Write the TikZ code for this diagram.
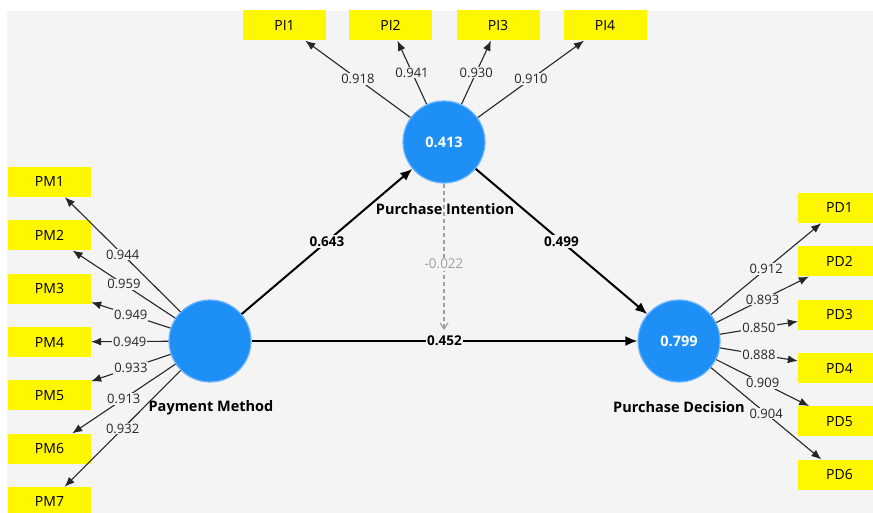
\documentclass[tikz,border=0pt]{standalone}
\usepackage{fontspec}
\setmainfont{Open Sans}
\usetikzlibrary{arrows.meta}
\definecolor{bg}{HTML}{F4F4F4}
\definecolor{lvblue}{HTML}{1E8FF5}
\definecolor{lvedge}{HTML}{6DB6FF}
\definecolor{ind}{HTML}{FFF700}
\definecolor{dgray}{HTML}{A0A0A0}
\tikzset{
  latent/.style={circle, fill=lvblue, draw=lvedge, line width=1.2pt, minimum size=82pt, inner sep=0pt,
    text=white, font=\fontsize{14.5}{14.5}\selectfont\bfseries},
  indic/.style={rectangle, fill=ind, minimum width=83pt, minimum height=30pt, inner sep=0pt,
    font=\fontsize{14}{14}\selectfont},
  lvname/.style={font=\fontsize{14.5}{14.5}\selectfont\bfseries, inner sep=0pt},
  load/.style={-{Latex[length=10pt,width=8pt]}, line width=1.1pt, black!85},
  loadlbl/.style={fill=bg, inner sep=1pt, font=\fontsize{13}{13}\selectfont, text=black!85},
  path/.style={-{Latex[length=12pt,width=10pt]}, line width=2pt},
  pathlbl/.style={fill=bg, inner sep=1.5pt, font=\fontsize{13.5}{13.5}\selectfont\bfseries},
  dpath/.style={-{Straight Barb[length=6pt,width=8pt]}, line width=1.2pt, dgray, dash pattern=on 4pt off 3pt},
}
\begin{document}
\begin{tikzpicture}[x=1pt,y=-1pt]
\useasboundingbox (0,0) rectangle (873,513);
\clip (0,0) rectangle (873,513);
\fill[white] (0,0) rectangle (873,513);
\fill[bg] (7,11) rectangle (873,513);
% latent variables
\node[latent] (PI) at (444,142) {0.413};
\node[latent] (PM) at (210,341) {};
\node[latent] (PD) at (679,341) {0.799};
% indicators
\foreach \n/\x in {1/284.5,2/390.5,3/498,4/605}{
  \node[indic] (PI\n) at (\x,25.5) {PI\n};
}
\foreach \n/\y in {1/182,2/235.3,3/288.6,4/342,5/395.3,6/448.6,7/502}{
  \node[indic] (PM\n) at (49.5,\y) {PM\n};
}
\foreach \n/\y in {1/208,2/261.3,3/314.6,4/368,5/421.3,6/474.6}{
  \node[indic] (PD\n) at (839.5,\y) {PD\n};
}
% loadings
\foreach \n/\v in {1/0.918,2/0.941,3/0.930,4/0.910}{
  \draw[load] (PI) -- node[loadlbl]{\v} (PI\n);
}
\foreach \n/\v in {1/0.944,2/0.959,3/0.949,4/0.949,5/0.933,6/0.913,7/0.932}{
  \draw[load] (PM) -- node[loadlbl]{\v} (PM\n);
}
\foreach \n/\v in {1/0.912,2/0.893,3/0.850,4/0.888,5/0.909,6/0.904}{
  \draw[load] (PD) -- node[loadlbl]{\v} (PD\n);
}
% structural paths
\draw[path] (PM) -- node[pathlbl] (l452) {0.452} (PD);
\draw[path] (PM) -- node[pathlbl]{0.643} (PI);
\draw[path] (PI) -- node[pathlbl]{0.499} (PD);
\coordinate (mod) at (444,330);
\draw[dpath] (PI) -- node[pos=0.55, fill=bg, inner sep=1.5pt, font=\fontsize{13.5}{13.5}\selectfont, text=dgray]{-0.022} (mod);
% names
\node[lvname] (nPI) at (445,209) {Purchase Intention};
\node[lvname] (nPM) at (211,408) {Payment Method};
\node[lvname] (nPD) at (679,407) {Purchase Decision};
\end{tikzpicture}
\end{document}
